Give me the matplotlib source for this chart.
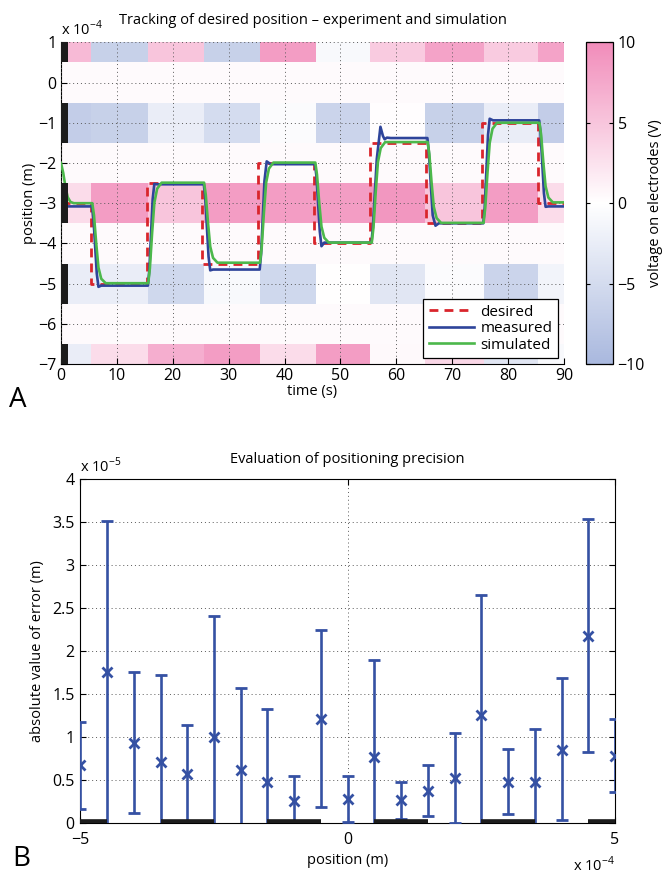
import numpy as np
import matplotlib
matplotlib.use("Agg")
import matplotlib.pyplot as plt
from matplotlib.colors import LinearSegmentedColormap
from matplotlib.ticker import FuncFormatter

plt.rcParams['font.family'] = ['Open Sans', 'DejaVu Sans']
plt.rcParams['mathtext.fontset'] = 'custom'
plt.rcParams['mathtext.rm'] = 'Open Sans'
plt.rcParams['axes.unicode_minus'] = True

# ---------------- data: panel A ----------------
desired_t = [0, 5.3, 15.3, 25.3, 35.3, 45.2, 55.3, 65.3, 75.3, 85.3, 90]
desired_y = [-3, -5, -2.5, -4.5, -2, -4, -1.5, -3.5, -1, -3, -3]

measured_t = [0, 5.55, 5.8, 6.4, 6.7, 7.2,
              15.55, 15.8, 16.4, 16.7, 17.2,
              25.55, 25.8, 26.4, 26.7, 27.2,
              35.55, 35.8, 36.4, 36.8, 37.5,
              45.45, 45.7, 46.3, 46.6, 47.1,
              55.55, 55.8, 56.5, 57.15, 57.6, 57.9, 58.3, 59.0,
              65.55, 65.8, 66.5, 67.0, 67.6,
              75.55, 75.8, 76.4, 76.7, 77.3,
              85.55, 85.8, 86.4, 86.7, 87.2, 90]
measured_y = [-3.08, -3.08, -3.38, -4.75, -5.08, -5.05,
              -5.05, -4.67, -2.9, -2.52, -2.53,
              -2.53, -2.85, -4.33, -4.67, -4.65,
              -4.65, -4.26, -2.45, -1.96, -2.03,
              -2.03, -2.33, -3.7, -4.07, -3.98,
              -3.98, -3.6, -1.9, -1.10, -1.33, -1.41, -1.37, -1.38,
              -1.38, -1.7, -3.3, -3.56, -3.5,
              -3.5, -3.12, -1.3, -0.90, -0.94,
              -0.94, -1.25, -2.75, -3.09, -3.08, -3.08]

simulated_t = [0, 0.4, 0.8, 1.2, 1.7, 2.3,
               5.6, 5.9, 6.3, 6.7, 7.2, 8.0,
               15.6, 15.9, 16.3, 16.7, 17.2, 18.0,
               25.6, 25.9, 26.3, 26.7, 27.2, 28.0,
               35.6, 35.9, 36.3, 36.7, 37.2, 38.0,
               45.5, 45.8, 46.2, 46.6, 47.1, 47.9,
               55.6, 55.9, 56.3, 56.7, 57.2, 58.0,
               65.6, 65.9, 66.3, 66.7, 67.2, 68.0,
               75.6, 75.9, 76.3, 76.7, 77.2, 78.0,
               85.6, 85.9, 86.3, 86.7, 87.2, 88.0, 90]
simulated_y = [-2.0, -2.25, -2.6, -2.85, -2.97, -3.0,
               -3.0, -3.3, -4.0, -4.6, -4.88, -4.99,
               -4.99, -4.62, -3.74, -2.99, -2.64, -2.49,
               -2.49, -2.79, -3.49, -4.08, -4.36, -4.48,
               -4.48, -4.11, -3.24, -2.49, -2.14, -1.99,
               -1.99, -2.29, -2.99, -3.58, -3.86, -3.98,
               -3.98, -3.61, -2.73, -1.98, -1.63, -1.48,
               -1.48, -1.78, -2.49, -3.09, -3.37, -3.49,
               -3.49, -3.12, -2.25, -1.5, -1.15, -1.0,
               -1.0, -1.3, -1.99, -2.58, -2.86, -2.98, -2.98]

# electrode voltages (V): rows = electrode positions, columns = time segments
electrode_pos = [1, 0, -1, -2, -3, -4, -5, -6, -7]
voltage_t_edges = [0, 5.3, 15.6, 25.5, 35.6, 45.6, 55.3, 65.2, 75.6, 85.4, 90]
voltage = [
    [6.0, -6.5, 5.0, -6.5, 8.5, -0.8, 4.5, 8.0, 4.5, 8.0],
    [0.4] * 10,
    [-7.0, -6.5, -2.5, -5.0, -0.5, -6.0, 0.2, -6.5, -2.5, -7.0],
    [0.4] * 10,
    [3.0, 8.5, 5.0, 8.5, 8.5, 8.5, 9.0, 5.0, 8.5, 3.0],
    [0.4] * 10,
    [-2.5, -2.5, -5.5, -0.8, -5.5, 0.1, -3.5, -0.5, -6.0, -1.5],
    [0.4] * 10,
    [-2.5, 3.0, 7.0, 8.5, 3.0, 8.5, 0.5, 3.5, -3.5, -0.8],
]
active_electrodes = [1, -1, -3, -5, -7]
startup_time = 1.2

# ---------------- data: panel B ----------------
err_pos = [-5, -4.5, -4, -3.5, -3, -2.5, -2, -1.5, -1, -0.5, 0,
           0.5, 1, 1.5, 2, 2.5, 3, 3.5, 4, 4.5, 5]
err_mean = [0.67, 1.75, 0.93, 0.71, 0.57, 0.995, 0.61, 0.47, 0.25, 1.21, 0.276,
            0.76, 0.26, 0.37, 0.52, 1.255, 0.474, 0.47, 0.85, 2.18, 0.78]
err_hi = [1.17, 3.51, 1.75, 1.72, 1.14, 2.41, 1.57, 1.33, 0.545, 2.25, 0.54,
          1.90, 0.48, 0.67, 1.05, 2.65, 0.855, 1.09, 1.68, 3.54, 1.205]
err_lo = [0.16, -0.3, 0.11, -0.3, -0.3, -0.3, -0.3, -0.3, -0.3, 0.18, 0.01,
          -0.3, 0.04, 0.08, 0.0, -0.3, 0.10, -0.3, 0.03, 0.82, 0.36]
bottom_electrodes = [-5, -3, -1, 1, 3, 5]
electrode_width = 1.0

# ---------------- styling ----------------
RED = '#d9252c'
BLUE = '#2e449a'
GREEN = '#4cb84b'
EBLUE = '#3551a3'
cmap = LinearSegmentedColormap.from_list('bwp', ['#a9b8de', '#ffffff', '#f18cba'])
grid_kw = dict(color='0.35', linestyle=(0, (1, 3)), linewidth=0.7)
FS = 10.5
TFS = 11.5

fig = plt.figure(figsize=(6.66, 8.73), dpi=100)

# ---------------- panel A ----------------
ax1 = fig.add_axes([0.0916, 0.583, 0.7553, 0.3685])
y_edges = np.array(electrode_pos + [electrode_pos[-1] - 1]) + 0.5
mesh = ax1.pcolormesh(voltage_t_edges, y_edges, np.array(voltage), cmap=cmap,
                      vmin=-10, vmax=10, shading='flat', zorder=0)
ax1.plot(desired_t, desired_y, drawstyle='steps-post', color=RED, lw=2.0,
         dashes=(3.2, 2.2), label='desired', zorder=3)
ax1.plot(measured_t, measured_y, color=BLUE, lw=1.9, label='measured', zorder=4)
ax1.plot(simulated_t, simulated_y, color=GREEN, lw=1.9, label='simulated', zorder=5)
ax1.barh(active_electrodes, [startup_time] * len(active_electrodes), height=1.0,
         left=0, color='#1c1c1c', zorder=6)
ax1.set_xlim(0, 90)
ax1.set_ylim(-7, 1)
ax1.set_xticks(range(0, 91, 10))
ax1.set_yticks(range(-7, 2))
ax1.grid(True, **grid_kw)
ax1.set_axisbelow(False)
for s in ['top', 'right']:
    ax1.spines[s].set_visible(False)
for s in ['left', 'bottom']:
    ax1.spines[s].set_linewidth(0.8)
ax1.tick_params(direction='in', length=4, width=0.8, labelsize=TFS, pad=3)
ax1.set_xlabel('time (s)', fontsize=FS, labelpad=0)
ax1.set_ylabel('position (m)', fontsize=FS, labelpad=1)
ax1.set_title('Tracking of desired position \u2013 experiment and simulation',
              fontsize=FS, pad=13)
ax1.text(0.0, 1.010, r'x 10$^{\mathrm{-4}}$', transform=ax1.transAxes,
         fontsize=FS, ha='left', va='bottom')
leg = ax1.legend(loc='lower right', fontsize=FS + 0.5, frameon=True, fancybox=False,
                 edgecolor='black', framealpha=1, handlelength=3.0,
                 borderaxespad=0.4, labelspacing=0.1, borderpad=0.35,
                 handletextpad=0.4)
leg.get_frame().set_linewidth(0.9)

cax = fig.add_axes([0.8794, 0.583, 0.0405, 0.3685])
cb = fig.colorbar(mesh, cax=cax, ticks=[-10, -5, 0, 5, 10])
cb.outline.set_linewidth(0.9)
cax.tick_params(direction='in', length=3, width=0.8, labelsize=TFS, left=True, right=True)
cb.set_label('voltage on electrodes (V)', fontsize=FS, labelpad=2)

fig.text(9 / 666, 1 - 407 / 873, 'A', fontsize=20, ha='left', va='baseline')

# ---------------- panel B ----------------
ax2 = fig.add_axes([0.1206, 0.0576, 0.8029, 0.3934])
m = np.array(err_mean)
yerr = np.vstack([m - np.array(err_lo), np.array(err_hi) - m])
ax2.errorbar(err_pos, err_mean, yerr=yerr, fmt='x', color=EBLUE, ecolor=EBLUE,
             elinewidth=1.9, capsize=4, capthick=1.9, markersize=7, mew=2.0,
             zorder=3)
for c in bottom_electrodes:
    ax2.plot([c - electrode_width / 2, c + electrode_width / 2], [0, 0],
             color='#1c1c1c', lw=5.5, solid_capstyle='butt', zorder=4)
ax2.set_xlim(-5, 5)
ax2.set_ylim(0, 4)
ax2.set_xticks([-5, 0, 5])
ax2.set_yticks(np.arange(0, 4.01, 0.5))
ax2.yaxis.set_major_formatter(FuncFormatter(lambda v, p: ('%g' % v).replace('-', '\u2212')))
ax2.xaxis.set_major_formatter(FuncFormatter(lambda v, p: ('%g' % v).replace('-', '\u2212')))
ax2.grid(True, **grid_kw)
for s in ax2.spines.values():
    s.set_linewidth(0.8)
ax2.tick_params(direction='in', length=4, width=0.8, labelsize=TFS,
                top=True, right=True)
ax2.tick_params(axis='x', pad=7)
ax2.tick_params(axis='y', pad=4)
ax2.set_xlabel('position (m)', fontsize=FS, labelpad=3)
ax2.set_ylabel('absolute value of error (m)', fontsize=FS, labelpad=5)
ax2.set_title('Evaluation of positioning precision', fontsize=FS, pad=12)
ax2.text(0.0, 1.010, r'x 10$^{\mathrm{-5}}$', transform=ax2.transAxes,
         fontsize=FS, ha='left', va='bottom')
ax2.text(1.0, -0.095, r'x 10$^{\mathrm{-4}}$', transform=ax2.transAxes,
         fontsize=FS, ha='right', va='top')

fig.text(12 / 666, 1 - 866 / 873, 'B', fontsize=20, ha='left', va='baseline')

fig.savefig('out.png', dpi=100)
